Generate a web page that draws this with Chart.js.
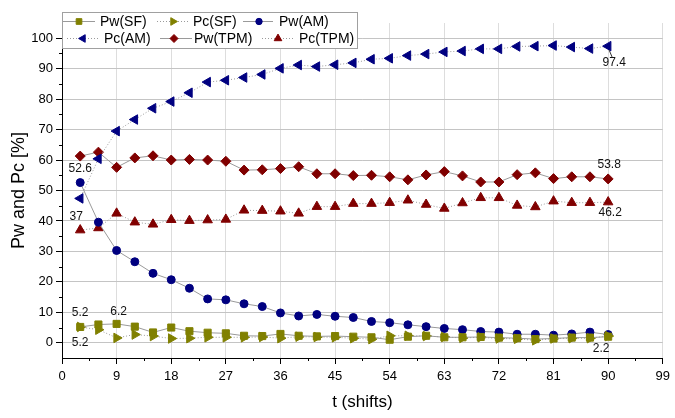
<!DOCTYPE html>
<html>
<head>
<meta charset="utf-8">
<script src="https://cdn.jsdelivr.net/npm/chart.js@4.4.1/dist/chart.umd.min.js"></script>
<style>
  html, body { margin: 0; padding: 0; background: #fff; }
  #wrap { width: 675px; height: 418px; position: relative; }
</style>
</head>
<body>
<div id="wrap"><canvas id="chart"></canvas></div>
<script>
// t in shifts
const tValues = [3, 6, 9, 12, 15, 18, 21, 24, 27, 30, 33, 36, 39, 42, 45, 48, 51, 54, 57, 60, 63, 66, 69, 72, 75, 78, 81, 84, 87, 90];

const pwSF = [5.2, 6.0, 6.2, 5.3, 3.4, 5.0, 3.8, 3.3, 3.1, 2.3, 2.2, 2.9, 2.3, 2.1, 2.2, 2.0, 1.8, 1.0, 2.0, 2.3, 1.8, 1.8, 1.9, 1.7, 1.5, 1.2, 1.4, 1.7, 1.7, 2.0];
const pcSF = [5.2, 4.3, 1.6, 2.7, 2.2, 1.4, 1.5, 1.8, 1.8, 1.8, 1.9, 1.5, 2.0, 1.9, 1.8, 1.5, 1.2, 2.3, 2.3, 2.2, 1.9, 1.6, 1.8, 1.4, 1.3, 0.8, 1.4, 1.5, 1.5, 2.2];
const pwAM = [52.6, 39.6, 30.3, 26.6, 22.8, 20.7, 17.9, 14.4, 14.1, 12.8, 11.9, 9.8, 8.8, 9.3, 8.7, 8.3, 7.0, 6.6, 5.9, 5.3, 4.7, 4.3, 3.7, 3.5, 2.8, 2.8, 2.5, 2.9, 3.5, 2.7];
const pcAM = [47.4, 60.4, 69.5, 73.3, 77.0, 79.2, 82.1, 85.6, 86.2, 87.1, 88.1, 90.1, 91.2, 90.7, 91.3, 91.9, 93.1, 93.4, 94.3, 94.8, 95.5, 95.8, 96.5, 96.5, 97.3, 97.4, 97.6, 97.1, 96.6, 97.4];
const pwTPM = [61.3, 62.6, 57.6, 60.7, 61.4, 60.0, 60.2, 60.0, 59.6, 56.7, 56.8, 57.2, 57.8, 55.5, 55.5, 54.9, 55.0, 54.5, 53.5, 55.1, 56.2, 54.8, 52.8, 52.8, 55.2, 55.8, 53.9, 54.5, 54.5, 53.8];
const pcTPM = [37.0, 37.7, 42.5, 39.6, 38.9, 40.4, 40.1, 40.3, 40.5, 43.5, 43.4, 43.2, 42.5, 44.7, 44.7, 45.7, 45.7, 46.0, 46.8, 45.4, 44.1, 45.9, 47.6, 47.6, 45.1, 44.6, 46.5, 46.0, 46.0, 46.2];

const xTicks = [0, 9, 18, 27, 36, 45, 54, 63, 72, 81, 90, 99];
const yTicks = [0, 10, 20, 30, 40, 50, 60, 70, 80, 90, 100];

const FONT = "'Liberation Sans', Arial, sans-serif";
const OLIVE = "#808000";
const NAVY = "#000080";
const DRED = "#800000";
const LINE = "#9a9a9a";

function pts(arr) {
  return tValues.map((t, i) => ({ x: t, y: arr[i] }));
}

function makeSet(label, arr, color, style, rot, radius, dotted) {
  return {
    label: label,
    data: pts(arr),
    borderColor: LINE,
    borderWidth: 1,
    borderDash: dotted ? [1, 2] : [],
    pointStyle: style,
    rotation: rot,
    pointRadius: radius,
    pointBackgroundColor: color,
    pointBorderColor: color,
    pointBorderWidth: 1,
    tension: 0,
    fill: false
  };
}

const datasets = [
  makeSet("Pw(SF)", pwSF, OLIVE, "rect", 0, 5, false),
  makeSet("Pc(SF)", pcSF, OLIVE, "triangle", 90, 5.5, true),
  makeSet("Pw(AM)", pwAM, NAVY, "circle", 0, 4, false),
  makeSet("Pc(AM)", pcAM, NAVY, "triangle", -90, 5.5, true),
  makeSet("Pw(TPM)", pwTPM, DRED, "rectRot", 0, 5, false),
  makeSet("Pc(TPM)", pcTPM, DRED, "triangle", 0, 5.5, true)
];

// legend entries: dataset index, row, line start/end, marker x, text x
const legendItems = [
  { ds: 0, row: 0, x0: 63, x1: 95, mx: 79, tx: 100 },
  { ds: 1, row: 0, x0: 157, x1: 188, mx: 173, tx: 193 },
  { ds: 2, row: 0, x0: 243, x1: 273, mx: 259, tx: 279 },
  { ds: 3, row: 1, x0: 67, x1: 98, mx: 83, tx: 104 },
  { ds: 4, row: 1, x0: 160, x1: 192, mx: 174, tx: 194 },
  { ds: 5, row: 1, x0: 262, x1: 295, mx: 278, tx: 299 }
];

// point labels: dataset, point index, text, offset
const pointLabels = [
  { ds: 2, i: 0, text: "52.6", dx: 0, dy: -14 },
  { ds: 5, i: 0, text: "37", dx: -4, dy: -13 },
  { ds: 0, i: 0, text: "5.2", dx: 0, dy: -14 },
  { ds: 0, i: 2, text: "6.2", dx: 2, dy: -12 },
  { ds: 1, i: 0, text: "5.2", dx: 0, dy: 16 },
  { ds: 1, i: 29, text: "2.2", dx: -7, dy: 13 },
  { ds: 3, i: 29, text: "97.4", dx: 6, dy: 17, leader: true },
  { ds: 4, i: 29, text: "53.8", dx: 1, dy: -14 },
  { ds: 5, i: 29, text: "46.2", dx: 2, dy: 11 }
];

const extras = {
  id: "extras",
  afterDatasetsDraw(chart) {
    const ctx = chart.ctx;
    const xs = chart.scales.x;
    const ys = chart.scales.y;
    ctx.save();

    // minor ticks
    ctx.strokeStyle = "#000";
    ctx.lineWidth = 1;
    ctx.beginPath();
    for (let v = 4.5; v < 99; v += 9) {
      const px = Math.round(xs.getPixelForValue(v)) + 0.5;
      ctx.moveTo(px, ys.bottom);
      ctx.lineTo(px, ys.bottom + 3);
    }
    for (let v = 5; v < 100; v += 10) {
      const py = Math.round(ys.getPixelForValue(v)) + 0.5;
      ctx.moveTo(xs.left - 3, py);
      ctx.lineTo(xs.left, py);
    }
    ctx.stroke();

    // point labels
    ctx.font = "12px " + FONT;
    ctx.fillStyle = "#111";
    ctx.textAlign = "center";
    ctx.textBaseline = "middle";
    pointLabels.forEach(l => {
      const el = chart.getDatasetMeta(l.ds).data[l.i];
      const lx = el.x + l.dx;
      const ly = el.y + l.dy;
      if (l.leader) {
        ctx.strokeStyle = "#333";
        ctx.beginPath();
        ctx.moveTo(el.x + 1, el.y + 4);
        ctx.lineTo(lx - 2, ly - 6);
        ctx.stroke();
      }
      ctx.fillText(l.text, lx, ly);
    });

    // legend box
    ctx.fillStyle = "#fff";
    ctx.fillRect(62, 12, 295, 36);
    ctx.strokeStyle = "#a0a0a0";
    ctx.strokeRect(62.5, 12.5, 295, 36);
    ctx.font = "14px " + FONT;
    ctx.textAlign = "left";
    legendItems.forEach(it => {
      const ds = chart.data.datasets[it.ds];
      const y = it.row === 0 ? 21 : 38;
      ctx.strokeStyle = LINE;
      ctx.setLineDash(ds.borderDash);
      ctx.beginPath();
      ctx.moveTo(it.x0, y + 0.5);
      ctx.lineTo(it.x1, y + 0.5);
      ctx.stroke();
      ctx.setLineDash([]);
      ctx.fillStyle = ds.pointBackgroundColor;
      ctx.strokeStyle = ds.pointBorderColor;
      Chart.helpers.drawPoint(ctx, {
        pointStyle: ds.pointStyle,
        rotation: ds.rotation,
        radius: ds.pointRadius * 0.8,
        borderWidth: 1
      }, it.mx, y + 0.5);
      ctx.fillStyle = "#000";
      ctx.fillText(ds.label, it.tx, y + 1);
    });
    ctx.restore();
  }
};

new Chart(document.getElementById("chart"), {
  type: "line",
  data: { datasets: datasets },
  options: {
    responsive: true,
    maintainAspectRatio: false,
    animation: false,
    layout: { padding: { top: 23, right: 7, left: 0, bottom: 0 } },
    plugins: {
      legend: { display: false },
      tooltip: { enabled: false }
    },
    scales: {
      x: {
        type: "linear",
        min: 0,
        max: 99,
        afterBuildTicks: s => { s.ticks = xTicks.map(v => ({ value: v })); },
        afterFit: s => { s.height = 60; },
        border: { color: "#000", width: 1 },
        grid: { color: "#dddddd", tickColor: "#000", tickLength: 6 },
        ticks: { color: "#000", font: { size: 13, family: FONT }, padding: 5, maxRotation: 0 },
        title: { display: true, text: "t (shifts)", color: "#000", font: { size: 17, family: FONT }, padding: { top: 0, bottom: 5 } }
      },
      y: {
        min: -5,
        max: 105,
        afterBuildTicks: s => { s.ticks = yTicks.map(v => ({ value: v })); },
        afterFit: s => { s.width = 62; },
        border: { color: "#000", width: 1 },
        grid: { color: "#c4c4c4", tickColor: "#000", tickLength: 6 },
        ticks: { color: "#000", font: { size: 13, family: FONT }, padding: 3 },
        title: { display: true, text: "Pw and Pc [%]", color: "#000", font: { size: 18, family: FONT }, padding: { top: 8, bottom: 0 } }
      }
    }
  },
  plugins: [extras]
});
</script>
</body>
</html>
